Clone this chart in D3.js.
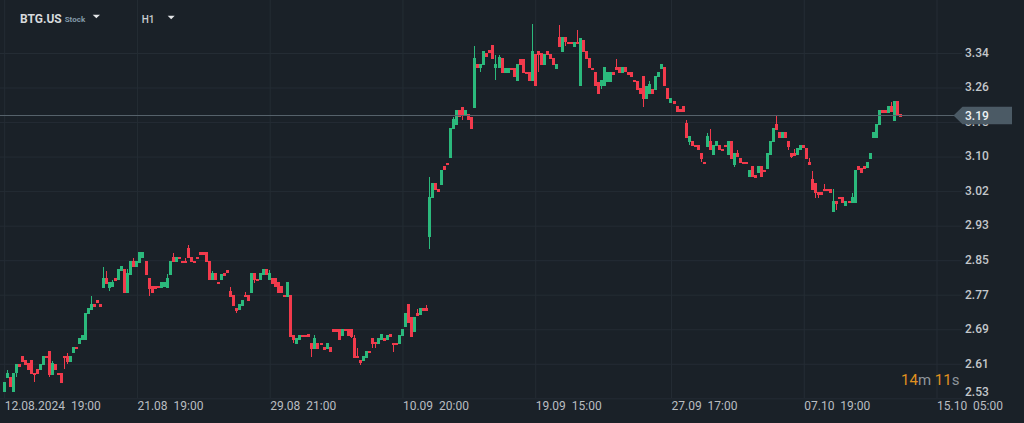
<!DOCTYPE html>
<html><head><meta charset="utf-8">
<script src="https://cdn.jsdelivr.net/npm/d3@7"></script>
<style>
html,body{margin:0;padding:0;background:#1a2128;overflow:hidden}
svg{display:block}
</style></head>
<body>
<svg id="chart" width="1024" height="423"></svg>
<script>
// ---------- DATA (H1 candles, BTG.US) ----------
const opens = [
2.541,2.574,2.578,2.541,2.586,2.607,2.626,2.617,2.609,2.617,
2.587,2.595,2.593,2.605,2.626,2.638,2.582,2.607,2.587,2.587,
2.626,2.626,2.613,2.634,2.648,2.654,2.664,2.664,2.725,2.734,
2.749,2.758,2.749,2.787,2.809,2.787,2.788,2.809,2.805,2.827,
2.830,2.775,2.817,2.850,2.836,2.846,2.856,2.850,2.809,2.791,
2.791,2.791,2.787,2.788,2.787,2.817,2.858,2.848,2.858,2.850,
2.850,2.880,2.858,2.850,2.860,2.870,2.870,2.870,2.850,2.805,
2.821,2.800,2.805,2.821,2.829,
2.780,2.770,2.739,2.734,2.744,2.770,2.770,2.775,2.821,2.807,
2.805,2.817,2.830,2.805,2.809,2.809,2.801,2.791,2.770,2.766,
2.770,2.676,2.654,2.664,2.676,2.676,2.677,2.658,2.643,2.658,
2.658,2.648,2.643,2.648,2.689,2.689,2.689,2.673,2.689,2.689,
2.689,2.668,2.626,2.617,2.615,2.622,2.638,2.668,2.660,2.654,
2.664,2.668,2.664,2.677,2.658,2.658,2.654,2.673,2.694,2.749,
2.717,2.683,2.728,2.723,2.738,2.738,
2.907,2.997,3.032,3.020,3.028,3.074,3.081,3.091,3.159,3.169,
3.205,3.213,3.193,3.195,3.189,3.210,3.314,3.303,3.311,3.338,
3.346,3.357,3.303,3.303,3.326,3.291,3.291,3.304,3.304,3.273,
3.324,3.324,3.293,3.293,3.273,3.336,3.344,3.338,3.311,3.344,
3.336,3.326,3.301,3.376,3.342,3.376,3.365,3.365,3.354,3.365,
3.261,3.369,3.344,3.326,3.304,3.295,3.271,3.261,3.261,3.271,
3.271,3.295,3.307,3.307,3.291,3.305,3.295,3.295,3.275,3.274,
3.256,3.285,3.231,3.242,3.254,3.252,3.282,3.301,3.307,3.256,
3.222,3.226,3.214,3.206,3.214,3.175,3.129,3.132,3.122,3.122,
3.103,3.082,3.118,3.132,3.099,3.120,3.122,3.114,3.122,3.099,
3.133,3.075,3.103,3.093,3.082,3.082,3.048,3.073,3.053,3.057,
3.073,3.064,3.067,3.099,3.130,3.173,3.153,3.140,3.153,3.133,
3.103,3.103,3.099,3.111,3.122,3.115,3.083,3.042,3.032,3.013,
3.013,3.020,3.020,3.020,2.966,2.991,3.001,3.001,2.979,2.991,
2.987,2.987,3.073,3.068,3.073,3.068,3.089,3.140,3.140,3.169,
3.205,3.205,3.198,3.214,3.180,3.226,3.195];
const highs = [
2.566,2.593,2.578,2.587,2.607,2.607,2.626,2.617,2.609,2.617,
2.587,2.595,2.607,2.626,2.626,2.638,2.614,2.607,2.587,2.587,
2.626,2.634,2.626,2.647,2.648,2.668,2.676,2.728,2.738,2.767,
2.749,2.758,2.749,2.836,2.827,2.800,2.805,2.809,2.830,2.839,
2.830,2.830,2.850,2.857,2.850,2.870,2.870,2.850,2.809,2.791,
2.791,2.791,2.800,2.800,2.819,2.850,2.868,2.858,2.858,2.850,
2.857,2.887,2.858,2.850,2.860,2.870,2.870,2.870,2.850,2.827,
2.821,2.800,2.819,2.821,2.829,
2.789,2.770,2.739,2.749,2.758,2.777,2.770,2.821,2.821,2.807,
2.821,2.830,2.830,2.829,2.809,2.809,2.801,2.791,2.770,2.800,
2.770,2.676,2.668,2.676,2.676,2.676,2.677,2.658,2.676,2.658,
2.658,2.648,2.658,2.648,2.689,2.689,2.689,2.689,2.689,2.689,
2.689,2.676,2.644,2.617,2.626,2.638,2.638,2.668,2.660,2.668,
2.677,2.668,2.676,2.677,2.658,2.658,2.676,2.689,2.728,2.749,
2.717,2.717,2.736,2.738,2.738,2.746,
3.048,3.034,3.032,3.020,3.064,3.074,3.081,3.162,3.189,3.205,
3.205,3.213,3.205,3.195,3.189,3.355,3.314,3.314,3.344,3.338,
3.346,3.357,3.334,3.334,3.326,3.304,3.304,3.304,3.304,3.313,
3.324,3.324,3.293,3.293,3.406,3.336,3.344,3.338,3.336,3.344,
3.336,3.326,3.314,3.405,3.376,3.376,3.365,3.365,3.365,3.394,
3.373,3.369,3.344,3.326,3.304,3.295,3.271,3.275,3.305,3.295,
3.295,3.295,3.325,3.307,3.305,3.305,3.295,3.295,3.275,3.274,
3.256,3.285,3.261,3.274,3.254,3.285,3.295,3.314,3.307,3.256,
3.234,3.226,3.214,3.206,3.214,3.181,3.144,3.132,3.122,3.122,
3.103,3.082,3.150,3.160,3.122,3.133,3.122,3.114,3.122,3.133,
3.133,3.103,3.111,3.093,3.082,3.082,3.064,3.073,3.053,3.073,
3.073,3.064,3.103,3.132,3.162,3.191,3.153,3.153,3.153,3.133,
3.103,3.112,3.115,3.122,3.122,3.115,3.091,3.061,3.032,3.013,
3.013,3.031,3.020,3.020,3.019,2.991,3.001,3.001,2.991,2.991,
3.009,3.064,3.073,3.068,3.073,3.082,3.103,3.153,3.173,3.205,
3.205,3.205,3.214,3.224,3.226,3.226,3.195];
const lows = [
2.541,2.574,2.553,2.541,2.576,2.601,2.613,2.605,2.593,2.584,
2.564,2.584,2.593,2.605,2.621,2.576,2.582,2.593,2.582,2.562,
2.595,2.607,2.613,2.634,2.642,2.654,2.664,2.664,2.725,2.734,
2.742,2.752,2.742,2.787,2.796,2.778,2.788,2.803,2.805,2.827,
2.775,2.775,2.817,2.836,2.836,2.846,2.856,2.817,2.767,2.775,
2.785,2.786,2.787,2.788,2.787,2.817,2.848,2.848,2.854,2.844,
2.844,2.856,2.847,2.844,2.854,2.864,2.864,2.848,2.805,2.805,
2.805,2.795,2.805,2.814,2.822,
2.766,2.745,2.727,2.734,2.744,2.764,2.756,2.775,2.799,2.803,
2.805,2.817,2.817,2.805,2.796,2.789,2.775,2.775,2.764,2.766,
2.672,2.656,2.654,2.664,2.670,2.671,2.670,2.625,2.643,2.643,
2.652,2.640,2.643,2.635,2.683,2.683,2.664,2.673,2.684,2.673,
2.668,2.622,2.621,2.605,2.615,2.622,2.633,2.644,2.644,2.654,
2.664,2.662,2.664,2.672,2.636,2.652,2.654,2.673,2.694,2.703,
2.672,2.683,2.720,2.723,2.733,2.733,
2.879,2.997,3.017,3.013,3.028,3.064,3.075,3.091,3.159,3.169,
3.189,3.181,3.193,3.181,3.159,3.210,3.303,3.293,3.311,3.330,
3.338,3.324,3.275,3.303,3.291,3.291,3.291,3.299,3.282,3.273,
3.311,3.291,3.289,3.273,3.273,3.261,3.293,3.311,3.311,3.334,
3.324,3.311,3.301,3.354,3.342,3.355,3.360,3.360,3.354,3.360,
3.261,3.342,3.324,3.303,3.299,3.261,3.242,3.253,3.261,3.271,
3.271,3.287,3.300,3.291,3.291,3.295,3.287,3.282,3.270,3.252,
3.242,3.213,3.231,3.242,3.242,3.252,3.282,3.301,3.261,3.231,
3.222,3.220,3.201,3.199,3.201,3.140,3.122,3.120,3.118,3.111,
3.082,3.077,3.118,3.111,3.099,3.120,3.111,3.108,3.117,3.099,
3.089,3.071,3.095,3.079,3.077,3.077,3.048,3.048,3.046,3.057,
3.048,3.058,3.067,3.099,3.130,3.158,3.140,3.140,3.140,3.111,
3.091,3.097,3.099,3.111,3.115,3.089,3.075,3.017,2.999,2.999,
3.005,3.015,3.015,3.009,2.966,2.970,2.995,2.987,2.979,2.985,
2.987,2.987,3.064,3.057,3.065,3.068,3.089,3.140,3.140,3.169,
3.198,3.198,3.198,3.201,3.180,3.193,3.189];
const closes = [
2.566,2.587,2.553,2.587,2.607,2.601,2.613,2.605,2.593,2.584,
2.582,2.584,2.607,2.626,2.621,2.582,2.609,2.593,2.582,2.562,
2.621,2.613,2.626,2.647,2.642,2.668,2.676,2.728,2.738,2.749,
2.742,2.752,2.742,2.809,2.796,2.800,2.801,2.803,2.830,2.839,
2.775,2.821,2.850,2.836,2.850,2.870,2.870,2.817,2.785,2.775,
2.785,2.786,2.800,2.800,2.809,2.850,2.848,2.858,2.854,2.844,
2.844,2.856,2.847,2.844,2.854,2.864,2.864,2.848,2.805,2.821,
2.805,2.795,2.819,2.814,2.822,
2.766,2.745,2.733,2.749,2.758,2.764,2.756,2.821,2.805,2.803,
2.821,2.830,2.817,2.821,2.796,2.789,2.775,2.775,2.764,2.800,
2.672,2.664,2.668,2.676,2.670,2.671,2.670,2.643,2.668,2.643,
2.652,2.640,2.658,2.635,2.683,2.683,2.664,2.689,2.684,2.673,
2.672,2.622,2.621,2.609,2.626,2.638,2.633,2.654,2.654,2.668,
2.677,2.662,2.676,2.672,2.652,2.652,2.676,2.689,2.728,2.703,
2.672,2.717,2.720,2.738,2.733,2.733,
3.001,3.034,3.017,3.013,3.064,3.064,3.075,3.162,3.183,3.205,
3.189,3.193,3.205,3.181,3.159,3.326,3.303,3.314,3.344,3.330,
3.338,3.324,3.314,3.329,3.291,3.304,3.304,3.299,3.282,3.313,
3.311,3.291,3.289,3.273,3.344,3.261,3.334,3.311,3.336,3.334,
3.324,3.311,3.314,3.354,3.376,3.365,3.360,3.360,3.365,3.360,
3.373,3.342,3.324,3.303,3.299,3.261,3.242,3.275,3.305,3.295,
3.295,3.287,3.300,3.291,3.305,3.295,3.287,3.282,3.270,3.252,
3.242,3.231,3.261,3.265,3.242,3.285,3.295,3.314,3.261,3.231,
3.234,3.220,3.201,3.199,3.201,3.140,3.144,3.120,3.118,3.111,
3.089,3.077,3.144,3.111,3.122,3.133,3.111,3.108,3.117,3.133,
3.089,3.103,3.095,3.079,3.077,3.077,3.064,3.048,3.046,3.073,
3.048,3.058,3.103,3.132,3.162,3.158,3.140,3.153,3.140,3.118,
3.095,3.097,3.115,3.122,3.115,3.089,3.075,3.017,3.009,3.005,
3.005,3.015,3.015,3.009,2.991,2.984,2.995,2.987,2.991,2.985,
3.001,3.064,3.064,3.057,3.065,3.082,3.103,3.153,3.173,3.205,
3.198,3.198,3.214,3.201,3.226,3.193,3.189];

// time-axis labels and the bar index each one belongs to
const xTickBars   = [0, 44, 88, 132, 176, 221, 265, 309];
const xTickLabels = ["12.08.2024  19:00","21.08  19:00","29.08  21:00","10.09  20:00",
                     "19.09  15:00","27.09  17:00","07.10  19:00","15.10  05:00"];
// price-axis tick values (labels shown rounded to 2 decimals)
const yTicks = [2.528, 2.6092, 2.6904, 2.7716, 2.8528, 2.934, 3.0152, 3.0964, 3.1776, 3.2588, 3.34];
const lastPrice = 3.19;
const symbol = "BTG.US", assetType = "Stock", timeframe = "H1";
const timerParts = [["14","m"],["11","s"]];

// ---------- DRAW ----------
const W = 1024, H = 423;
const UP = "#2bb97c", DOWN = "#f23a4c", GRID = "#242c34", BG = "#1a2128";
const svg = d3.select("#chart");
svg.append("rect").attr("width", W).attr("height", H).attr("fill", BG);

const n = opens.length;
const x = d3.scaleLinear().domain([0, n - 1]).range([4.2, 900.3]);
const y = d3.scaleLinear().domain([yTicks[0], yTicks[yTicks.length - 1]]).range([397.8, 52.5]);

// horizontal grid + price labels
const yAxis = d3.axisRight(y).tickValues(yTicks).tickSize(962).tickPadding(3).tickFormat(d3.format(".2f"));
const gy = svg.append("g").attr("class", "yaxis").call(yAxis);
gy.select(".domain").remove();
gy.selectAll("line").attr("stroke", GRID).attr("stroke-width", 1)
  .attr("transform", "translate(0,0.5)");
gy.selectAll("text").attr("fill", "#c3c7cb").attr("font-family", "Roboto, 'Noto Sans', sans-serif")
  .attr("font-size", 12).attr("font-weight", 500)
  .attr("y", d => Math.min(0, 392 - y(d)));

// vertical grid + time labels
const xAxis = d3.axisBottom(x).tickValues(xTickBars).tickSize(398).tickPadding(3)
  .tickFormat((d, i) => xTickLabels[i]);
const gx = svg.append("g").attr("class", "xaxis").call(xAxis);
gx.select(".domain").remove();
gx.selectAll("line").attr("stroke", GRID).attr("stroke-width", 1);
gx.selectAll("text").attr("fill", "#b9bdc1").attr("font-family", "Roboto, 'Noto Sans', sans-serif")
  .attr("font-size", 12).attr("text-anchor", "start").attr("x", 0)
  .style("white-space", "pre");

// candles
const idx = d3.range(n);
const cg = svg.append("g").attr("class", "candles").attr("shape-rendering", "crispEdges");
const left = i => Math.round(x(i) - 1.5);
cg.selectAll("line.wick").data(idx).join("line").attr("class", "wick")
  .attr("x1", i => left(i) + 1.5).attr("x2", i => left(i) + 1.5)
  .attr("y1", i => Math.round(y(Math.max(highs[i], opens[i], closes[i]))))
  .attr("y2", i => Math.round(y(Math.min(lows[i], opens[i], closes[i]))))
  .attr("stroke", i => closes[i] >= opens[i] ? UP : DOWN).attr("stroke-width", 1);
cg.selectAll("rect.body").data(idx).join("rect").attr("class", "body")
  .attr("x", i => left(i)).attr("width", 3)
  .attr("y", i => Math.round(y(Math.max(opens[i], closes[i]))))
  .attr("height", i => Math.max(1, Math.round(y(Math.min(opens[i], closes[i]))) - Math.round(y(Math.max(opens[i], closes[i])))))
  .attr("fill", i => closes[i] >= opens[i] ? UP : DOWN);

// last price line + label
const yp = Math.round(y(lastPrice)) - 0.5;
svg.append("line").attr("x1", 0).attr("x2", 954).attr("y1", yp).attr("y2", yp)
  .attr("stroke", "#56626b").attr("stroke-width", 1);
svg.append("path")
  .attr("d", `M953.5,${yp} L962.5,${yp - 8.7} L1012,${yp - 8.7} L1012,${yp + 8.7} L962.5,${yp + 8.7} Z`)
  .attr("fill", "#4b5a65");
svg.append("text").attr("x", 965).attr("y", yp).attr("dy", "0.35em")
  .attr("fill", "#eef1f3").attr("font-family", "Roboto, 'Noto Sans', sans-serif")
  .attr("font-size", 12).attr("font-weight", 500).text(d3.format(".2f")(lastPrice));

// countdown timer
const timer = svg.append("text").attr("x", 901).attr("y", 384.5)
  .attr("font-family", "Roboto, 'Noto Sans', sans-serif").attr("font-size", 15);
timerParts.forEach((p, k) => {
  timer.append("tspan").attr("fill", "#e0911f").text((k ? " " : "") + p[0]);
  timer.append("tspan").attr("fill", "#8e959b").text(p[1]);
});

// header
const font = "Roboto, 'Noto Sans', sans-serif";
svg.append("text").attr("x", 20).attr("y", 22.7).attr("font-family", font).attr("font-size", 12)
  .attr("font-weight", 700).attr("fill", "#d7dadd").text(symbol);
svg.append("text").attr("x", 64.7).attr("y", 21.5).attr("font-family", font).attr("font-size", 8)
  .attr("font-weight", 700).attr("fill", "#8299a8").text(assetType);
svg.append("path").attr("d", "M92.7,14.7 L100,14.7 L96.35,18.2 Z").attr("fill", "#e4e6e8");
svg.append("text").attr("x", 141.7).attr("y", 23.3).attr("font-family", font).attr("font-size", 10)
  .attr("font-weight", 500).attr("fill", "#c9cdd1").text(timeframe);
svg.append("path").attr("d", "M167.7,15.7 L174.7,15.7 L171.2,19.2 Z").attr("fill", "#e4e6e8");
</script>
</body></html>
